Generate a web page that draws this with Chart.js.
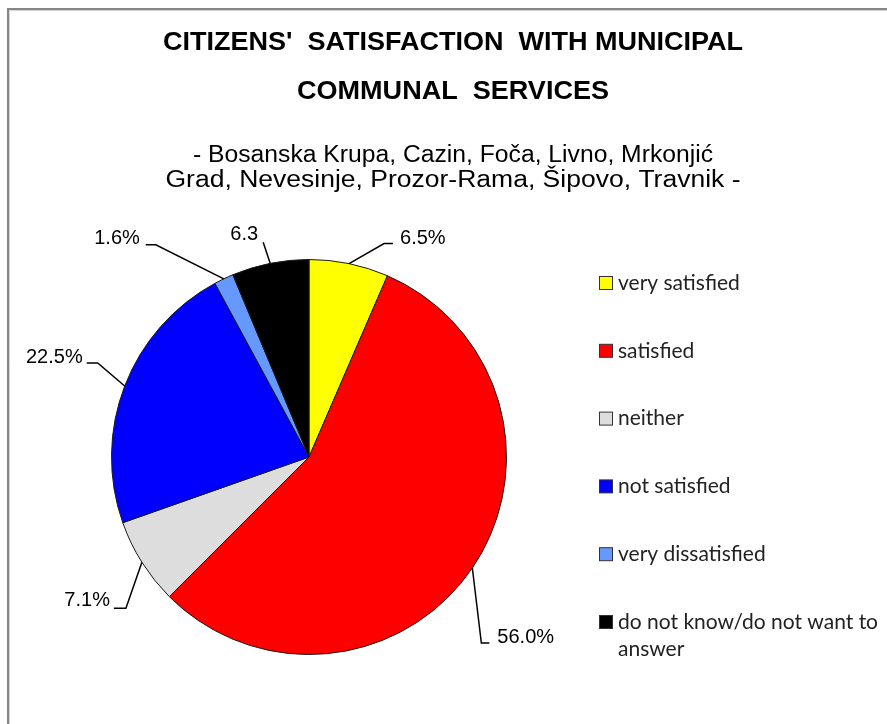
<!DOCTYPE html>
<html>
<head>
<meta charset="utf-8">
<script src="https://cdn.jsdelivr.net/npm/chart.js@4"></script>
<style>
  html, body { margin: 0; padding: 0; background: #fff; }
  #wrap { width: 887px; height: 724px; position: relative; }
</style>
</head>
<body>
<div id="wrap"><canvas id="c" width="887" height="724"></canvas></div>
<script>
// ---- data ----
const categories = ['very satisfied', 'satisfied', 'neither', 'not satisfied', 'very dissatisfied', 'do not know/do not want to answer'];
const values = [6.5, 56.0, 7.1, 22.5, 1.6, 6.3];
const valueLabels = ['6.5%', '56.0%', '7.1%', '22.5%', '1.6%', '6.3'];
const sliceColors = ['#FFFF00', '#FF0000', '#DDDDDD', '#0000FF', '#6699FF', '#000000'];
const titleLines = ["CITIZENS'  SATISFACTION  WITH MUNICIPAL", 'COMMUNAL  SERVICES'];
const subtitleLines = ['- Bosanska Krupa, Cazin, Foča, Livno, Mrkonjić', 'Grad, Nevesinje, Prozor-Rama, Šipovo, Travnik -'];

// ---- text layout (style, not data) ----
const titleLayout = [
  { y: 43, width: 580 },
  { y: 92, width: 312 }
];
const subtitleLayout = [
  { y: 156, width: 520 },
  { y: 181, width: 575 }
];

// ---- leader-line styling per slice (relative to slice edge midpoint) ----
const leaderStyle = [
  { elbow: [35, -20], run: 9,   align: 'left',   tdx: 7,  tdy: -5 },
  { elbow: [9, 75],   run: 8,   align: 'left',   tdx: 8,  tdy: -6 },
  { elbow: [-16, 46], run: -12, align: 'right',  tdx: -4, tdy: -8 },
  { elbow: [-27, -23],run: -11, align: 'right',  tdx: -4, tdy: -6 },
  { elbow: [-68, -34],run: -10, align: 'right',  tdx: -6, tdy: -6 },
  { elbow: [-7, -21], run: 0,   align: 'center', tdx: -19, tdy: -8 }
];

function fitText(ctx, text, cx, cy, width) {
  const w = ctx.measureText(text).width;
  ctx.save();
  ctx.translate(cx, cy);
  ctx.scale(width / w, 1);
  ctx.fillText(text, 0, 0);
  ctx.restore();
}

const framePlugin = {
  id: 'frame',
  beforeDraw(chart) {
    const ctx = chart.ctx;
    ctx.save();
    ctx.fillStyle = '#fff';
    ctx.fillRect(0, 0, chart.width, chart.height);
    ctx.strokeStyle = '#868686';
    ctx.lineWidth = 2;
    ctx.beginPath();
    ctx.moveTo(8, chart.height);
    ctx.lineTo(8, 9);
    ctx.lineTo(chart.width, 9);
    ctx.stroke();
    ctx.strokeStyle = '#d4d4d4';
    ctx.lineWidth = 1;
    ctx.beginPath();
    ctx.moveTo(9.5, chart.height);
    ctx.lineTo(9.5, 10.5);
    ctx.lineTo(chart.width, 10.5);
    ctx.stroke();
    ctx.restore();
  }
};

const textPlugin = {
  id: 'texts',
  afterDraw(chart) {
    const ctx = chart.ctx;
    ctx.save();
    ctx.fillStyle = '#000';
    ctx.textAlign = 'center';
    ctx.textBaseline = 'middle';
    ctx.font = 'bold 26px "Liberation Sans", Arial, sans-serif';
    titleLines.forEach((t, i) => fitText(ctx, t, 453, titleLayout[i].y, titleLayout[i].width));
    ctx.font = '23px "Liberation Sans", Arial, sans-serif';
    subtitleLines.forEach((t, i) => fitText(ctx, t, 453, subtitleLayout[i].y, subtitleLayout[i].width));

    // legend
    const items = chart.data.labels;
    const ds = chart.data.datasets[0];
    ctx.font = '21px Lato, "Open Sans", sans-serif';
    ctx.textAlign = 'left';
    items.forEach((lab, i) => {
      const cy = 283 + i * 67.8;
      ctx.fillStyle = ds.backgroundColor[i];
      ctx.fillRect(599.5, cy - 6.5, 13, 13);
      ctx.strokeStyle = '#333';
      ctx.lineWidth = 1;
      ctx.strokeRect(599.5, cy - 6.5, 13, 13);
      const words = lab.split(' ');
      const lines = [];
      let cur = '';
      words.forEach(w => {
        const t = cur ? cur + ' ' + w : w;
        if (ctx.measureText(t).width > 268 && cur) { lines.push(cur); cur = w; } else cur = t;
      });
      lines.push(cur);
      ctx.fillStyle = '#222';
      lines.forEach((ln, k) => ctx.fillText(ln, 618, cy + k * 27));
    });

    // value labels with leader lines
    const meta = chart.getDatasetMeta(0);
    ctx.font = '20px "Liberation Sans", Arial, sans-serif';
    meta.data.forEach((arc, i) => {
      const p = arc.getProps(['x', 'y', 'startAngle', 'endAngle', 'outerRadius'], true);
      const mid = (p.startAngle + p.endAngle) / 2;
      const ex = p.x + Math.cos(mid) * p.outerRadius;
      const ey = p.y + Math.sin(mid) * p.outerRadius;
      const st = leaderStyle[i];
      const bx = ex + st.elbow[0], by = ey + st.elbow[1];
      const fx = bx + st.run;
      ctx.strokeStyle = '#000';
      ctx.lineWidth = 1.5;
      ctx.beginPath();
      ctx.moveTo(ex, ey);
      ctx.lineTo(bx, by);
      ctx.lineTo(fx, by);
      ctx.stroke();
      ctx.fillStyle = '#000';
      ctx.textAlign = st.align;
      ctx.textBaseline = 'middle';
      ctx.fillText(valueLabels[i], fx + st.tdx, by + st.tdy);
    });
    ctx.restore();
  }
};

new Chart(document.getElementById('c'), {
  type: 'pie',
  data: {
    labels: categories,
    datasets: [{
      data: values,
      backgroundColor: sliceColors,
      borderColor: '#1a1a1a',
      borderWidth: 1
    }]
  },
  options: {
    responsive: false,
    animation: false,
    events: [],
    layout: { padding: { left: 111, top: 259, right: 380, bottom: 69 } },
    plugins: {
      legend: { display: false },
      title: { display: false },
      tooltip: { enabled: false }
    }
  },
  plugins: [framePlugin, textPlugin]
});
</script>
</body>
</html>
